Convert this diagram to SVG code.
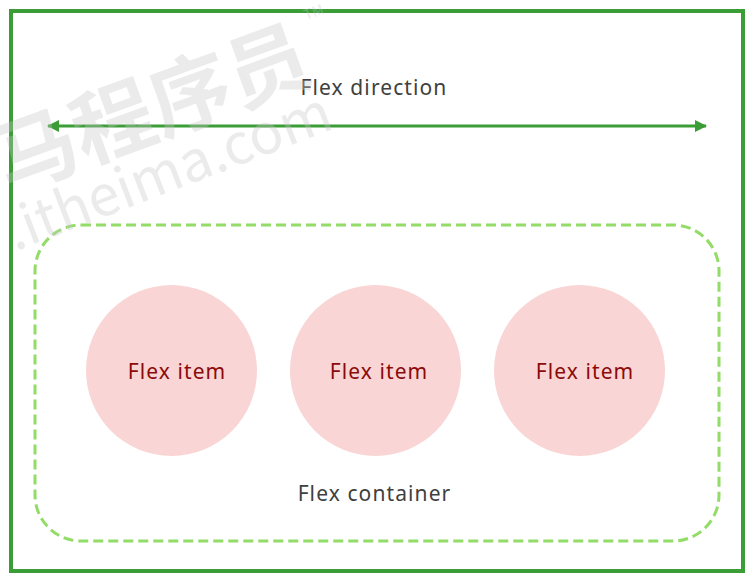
<svg xmlns="http://www.w3.org/2000/svg" width="756" height="582" viewBox="0 0 756 582">
<defs>
<style>
.lbl{font-family:"Noto Sans","Open Sans","Liberation Sans",sans-serif;font-size:21px;letter-spacing:1.1px;fill:#404040;text-anchor:middle}
.item{fill:#f9d5d5}
.itxt{font-family:"Noto Sans","Open Sans","Liberation Sans",sans-serif;font-size:21px;letter-spacing:1.1px;fill:#8b0a0a;text-anchor:middle}
.wm{font-family:"Noto Sans CJK SC","Noto Sans",sans-serif;fill:#c8c8c8;opacity:0.35}
</style>
<marker id="ah" viewBox="0 0 12 12" refX="11" refY="6" markerWidth="12" markerHeight="12" markerUnits="userSpaceOnUse" orient="auto-start-reverse">
<path d="M0,0 L12,6 L0,12 z" fill="#3a9d36"/>
</marker>
</defs>
<rect width="756" height="582" fill="#ffffff"/>
<g id="outer">
<rect x="11" y="11" width="732" height="560" fill="none" stroke="#3a9d36" stroke-width="4"/>
</g>
<g id="container">
<rect x="35" y="225" width="684" height="316" rx="46" ry="46" fill="none" stroke="#92dc67" stroke-width="3" stroke-dasharray="10 5"/>
<text class="lbl" x="374.5" y="501">Flex container</text>
</g>
<g id="connectors">
<line x1="48" y1="126" x2="706" y2="126" stroke="#3a9d36" stroke-width="3" marker-start="url(#ah)" marker-end="url(#ah)"/>
<text class="lbl" x="374" y="95">Flex direction</text>
</g>
<g id="item1">
<circle class="item" cx="171.5" cy="370.5" r="85.5"/>
<text class="itxt" x="177" y="379">Flex item</text>
</g>
<g id="item2">
<circle class="item" cx="375.5" cy="370.5" r="85.5"/>
<text class="itxt" x="379" y="379">Flex item</text>
</g>
<g id="item3">
<circle class="item" cx="579.5" cy="370.5" r="85.5"/>
<text class="itxt" x="585" y="379">Flex item</text>
</g>
<g id="watermark">
<text class="wm" font-size="82" font-weight="bold" text-anchor="end" transform="translate(316,80) rotate(-20)">马程序员</text>
<text class="wm" font-size="14" transform="translate(306,20) rotate(-20)">TM</text>
<text class="wm" font-size="56" text-anchor="end" transform="translate(336,128) rotate(-21)">.itheima.com</text>
</g>
</svg>
